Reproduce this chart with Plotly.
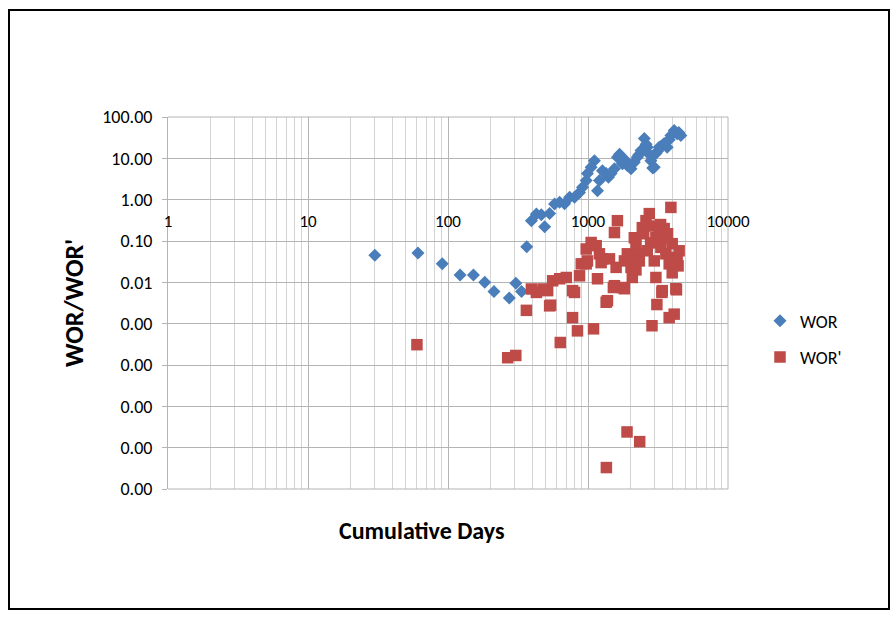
import plotly.graph_objects as go

# ---- data ----
days_wor = [30, 61, 91, 122, 152, 183, 213, 274, 305, 335, 365, 394, 428, 464, 490,
            532, 577, 627, 680, 739, 801, 870, 914, 971, 991, 1053, 1112, 1169, 1207,
            1268, 1348, 1400, 1462, 1545, 1622, 1680, 1761, 1850, 1910, 2029, 2142,
            2249, 2300, 2391, 2524, 2600, 2650, 2700, 2816, 2900, 2973, 3055, 3150,
            3226, 3350, 3500, 3677, 3800, 3909, 4126, 4333, 4450, 4603]
wor = [0.045, 0.051, 0.028, 0.015, 0.015, 0.010, 0.006, 0.0042, 0.0095, 0.006, 0.073,
       0.31, 0.45, 0.43, 0.22, 0.46, 0.79, 0.86, 0.80, 1.14, 1.14, 1.50, 1.99, 2.9,
       4.3, 6.1, 8.8, 1.65, 2.9, 5.0, 4.3, 3.5, 4.3, 5.6, 10.6, 12.5, 7.4, 9.0, 6.7,
       5.6, 8.0, 10.6, 12.0, 15.4, 30.0, 22.0, 18.5, 13.0, 8.8, 5.8, 6.1, 13.0, 15.0,
       18.5, 20.0, 22.7, 18.5, 28.0, 35.5, 46.9, 39.6, 42.0, 35.5]

days_worp = [60, 267, 305, 363, 394, 428, 477, 515, 532, 541, 559, 627, 634, 700, 776,
             776, 801, 841, 870, 895, 971, 971, 991, 1053, 1095, 1144, 1169, 1207, 1241,
             1268, 1348, 1353, 1377, 1423, 1518, 1545, 1545, 1588, 1622, 1761, 1820,
             1820, 1900, 1910, 2029, 2073, 2100, 2142, 2200, 2203, 2249, 2326, 2340,
             2443, 2500, 2595, 2650, 2740, 2800, 2865, 2878, 2973, 3055, 3055, 3105,
             3226, 3300, 3317, 3373, 3390, 3500, 3598, 3598, 3700, 3800, 3800, 3909,
             3995, 3995, 4100, 4126, 4243, 4285, 4333, 4400, 4477]
worp = [3.1e-4, 1.5e-4, 1.7e-4, 0.0021, 0.0069, 0.0057, 0.0069, 0.0063, 0.0027, 0.0028,
        0.0109, 0.0122, 0.00035, 0.0131, 0.0063, 0.0014, 0.0057, 0.00067, 0.0144, 0.028,
        0.028, 0.064, 0.033, 0.092, 0.00075, 0.077, 0.0122, 0.049, 0.030, 0.037, 0.0033,
        3.3e-7, 0.0036, 0.037, 0.0075, 0.16, 0.0083, 0.023, 0.31, 0.0075, 0.033, 0.0070,
        2.4e-6, 0.049, 0.023, 0.0131, 0.04, 0.12, 0.02, 0.086, 0.049, 0.033, 1.4e-6,
        0.21, 0.15, 0.31, 0.058, 0.46, 0.09, 0.00089, 0.23, 0.033, 0.12, 0.0131, 0.0029,
        0.21, 0.25, 0.070, 0.0057, 0.0063, 0.20, 0.12, 0.049, 0.15, 0.028, 0.0014, 0.65,
        0.017, 0.086, 0.04, 0.0017, 0.0070, 0.0066, 0.033, 0.025, 0.058]

x_tick_vals = [1, 10, 100, 1000, 10000]
x_tick_text = ["1", "10", "100", "1000", "10000"]
y_tick_vals = [1e-7, 1e-6, 1e-5, 1e-4, 1e-3, 1e-2, 1e-1, 1, 10, 100]
y_tick_text = ["0.00", "0.00", "0.00", "0.00", "0.00", "0.01", "0.10", "1.00", "10.00", "100.00"]

FONT = "Carlito, Calibri, Lato, sans-serif"

minor_vals = [m * 10 ** d for d in range(4) for m in range(2, 10)]

fig = go.Figure()
fig.add_trace(go.Scatter(
    x=days_wor, y=wor, mode="markers", name="WOR", legendgroup="a",
    marker=dict(symbol="diamond", size=10, color="#4A7EBB", line=dict(width=0)),
))
fig.add_trace(go.Scatter(
    x=days_worp, y=worp, mode="markers", name="WOR'", legendgroup="b",
    marker=dict(symbol="square", size=11.5, color="#BE4B48", line=dict(width=0)),
))

L, R, T, B = 168, 728, 117, 489
W, H = 895, 619
pw, ph = R - L, B - T

def px(xp):
    return (xp - L) / pw

def py(yp):
    return (B - yp) / ph

fig.update_layout(
    width=W, height=H,
    margin=dict(l=L, r=W - R, t=T, b=H - B, pad=0),
    paper_bgcolor="white", plot_bgcolor="white",
    font=dict(family=FONT, size=17, color="black"),
    showlegend=True,
    legend=dict(x=px(760), y=py(339), xanchor="left", yanchor="middle",
                font=dict(family=FONT, size=18, color="black"),
                traceorder="grouped", tracegroupgap=10, itemwidth=30,
                bgcolor="rgba(0,0,0,0)"),
    xaxis=dict(
        type="log", range=[0, 4], tickmode="array", tickvals=x_tick_vals,
        ticktext=x_tick_text, showgrid=True, gridcolor="#b4b4b4", gridwidth=1,
        minor=dict(tickmode="array", tickvals=minor_vals, showgrid=True,
                   gridcolor="#d4d4d4", gridwidth=1, ticks=""),
        zeroline=False, showline=False,
        ticks="", anchor="free", position=7 / 9, ticklabelstandoff=9,
        tickfont=dict(family=FONT, size=17, color="black"),
    ),
    yaxis=dict(
        type="log", range=[-7, 2], tickmode="array", tickvals=y_tick_vals,
        ticktext=y_tick_text, showgrid=True, gridcolor="#b4b4b4", gridwidth=1,
        zeroline=False, showline=True, linecolor="#b4b4b4", linewidth=1,
        ticks="outside", ticklen=5, tickcolor="#b4b4b4", ticklabelstandoff=6,
        tickfont=dict(family=FONT, size=18, color="black"),
    ),
    annotations=[
        dict(text="<b>Cumulative Days</b>", xref="paper", yref="paper",
             x=px(422), y=py(530), xanchor="center", yanchor="middle",
             showarrow=False, font=dict(family=FONT, size=24, color="black")),
        dict(text="<b>WOR/WOR'</b>", xref="paper", yref="paper",
             x=px(74), y=py(303), xanchor="center", yanchor="middle",
             textangle=-90, showarrow=False,
             font=dict(family=FONT, size=26, color="black")),
    ],
    shapes=[
        dict(type="rect", xref="paper", yref="paper",
             x0=px(9), x1=px(889), y0=py(609), y1=py(10),
             line=dict(color="black", width=2), fillcolor="rgba(0,0,0,0)"),
        dict(type="line", xref="paper", yref="paper",
             x0=1, x1=1, y0=0, y1=1, line=dict(color="#b4b4b4", width=1)),
        dict(type="line", xref="paper", yref="paper",
             x0=0, x1=1, y0=1, y1=1, line=dict(color="#b4b4b4", width=1)),
        dict(type="line", xref="paper", yref="paper",
             x0=0, x1=1, y0=0, y1=0, line=dict(color="#b4b4b4", width=1)),
    ],
)

fig.write_html("out.html")
